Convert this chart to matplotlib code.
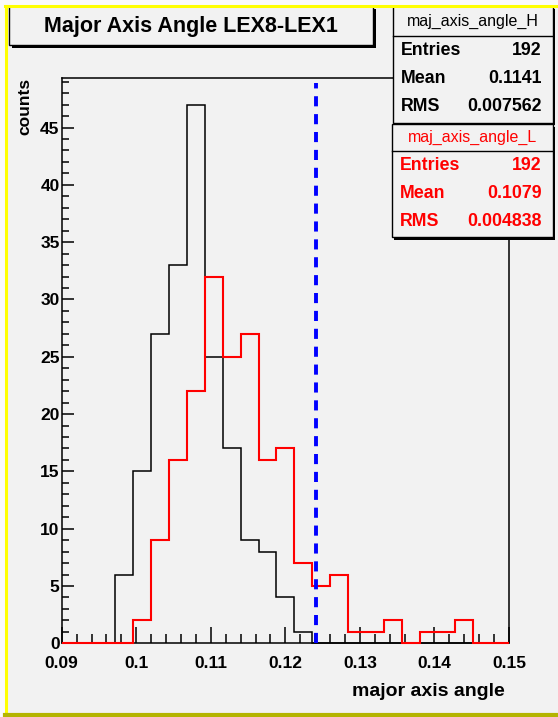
import numpy as np
import matplotlib
matplotlib.use("Agg")
import matplotlib.pyplot as plt
from matplotlib.patches import Rectangle
from matplotlib.lines import Line2D

plt.rcParams['font.family'] = ['Liberation Sans', 'DejaVu Sans']

# histogram binning (25 bins between 0.09 and 0.15)
x_min, x_max, n_bins = 0.09, 0.15, 25
counts_H = [0, 0, 0, 6, 15, 27, 33, 47, 25, 17, 9, 8, 4, 1,
            0, 0, 0, 0, 0, 0, 0, 0, 0, 0, 0]
counts_L = [0, 0, 0, 0, 2, 9, 16, 22, 32, 25, 27, 16, 17, 7,
            5, 6, 1, 1, 2, 0, 1, 1, 2, 0, 0]
cut_value = 0.1241
cut_top = 48.9

title = "Major Axis Angle LEX8-LEX1"
stats_H_name = "maj_axis_angle_H"
stats_H = [("Entries", "192"), ("Mean", "0.1141"), ("RMS", "0.007562")]
stats_L_name = "maj_axis_angle_L"
stats_L = [("Entries", "192"), ("Mean", "0.1079"), ("RMS", "0.004838")]

W, H = 558, 717
BG = '#f2f2f2'


def fx(x):
    return x / W


def fy(y):
    return 1 - y / H


fig = plt.figure(figsize=(W / 100, H / 100), dpi=100)
fig.patch.set_facecolor('#fafafa')
# pad area
fig.add_artist(Rectangle((fx(5), fy(715)), (558 - 5) / W, (715 - 5) / H, facecolor=BG,
                         edgecolor='none', transform=fig.transFigure, zorder=-10))

ax = fig.add_axes([fx(61.7), fy(643.3), (509 - 61.7) / W, (643.3 - 77.7) / H])
ax.set_facecolor(BG)

edges = np.linspace(x_min, x_max, n_bins + 1)
ax.stairs(counts_H, edges, color='black', lw=1.1, zorder=3, clip_on=False)
ax.stairs(counts_L, edges, color='red', lw=1.5, zorder=3.1, clip_on=False)
ax.vlines(cut_value, 0, cut_top, colors='blue', lw=2.8, linestyles=(0, (2.6, 2.0)),
          zorder=3.2)

ax.set_xlim(x_min, x_max)
ax.set_ylim(0, max(counts_H) * 1.05)
ax.set_xticks(np.arange(0.09, 0.1501, 0.01))
ax.set_xticklabels(['0.09', '0.1', '0.11', '0.12', '0.13', '0.14', '0.15'])
ax.set_xticks(np.arange(0.09, 0.1501, 0.002), minor=True)
ax.set_yticks(np.arange(0, 46, 5))
ax.set_yticks(np.arange(0, 50, 1), minor=True)
ax.tick_params(axis='both', which='both', direction='in', width=1.1,
               labelsize=12.5, color='black')
ax.tick_params(axis='y', which='major', length=8.6, pad=1.5)
ax.tick_params(axis='y', which='minor', length=4.8)
ax.tick_params(axis='x', which='major', length=11.5, pad=9.5)
ax.tick_params(axis='x', which='minor', length=6.5)
for lab in ax.get_xticklabels() + ax.get_yticklabels():
    lab.set_fontweight('bold')
for s in ax.spines.values():
    s.set_linewidth(1.1)

ax.text((25 - 61.7) / (509 - 61.7), 1.0, "counts", rotation=90, ha='center', va='top',
        fontsize=12.5, fontweight='bold', transform=ax.transAxes)
fig.text(fx(505), fy(691), "major axis angle", ha='right', va='center',
         fontsize=14, fontweight='bold')


def box(x0, y0, x1, y1):
    fig.add_artist(Rectangle((fx(x0) + 2.5 / W, fy(y1) - 2.5 / H), (x1 - x0) / W,
                             (y1 - y0) / H, facecolor='black', edgecolor='none',
                             transform=fig.transFigure, zorder=5))
    fig.add_artist(Rectangle((fx(x0), fy(y1)), (x1 - x0) / W, (y1 - y0) / H,
                             facecolor=BG, edgecolor='black', lw=1,
                             transform=fig.transFigure, zorder=6))


def stat_box(x0, y0, x1, y1, ysep, name, rows, color):
    box(x0, y0, x1, y1)
    fig.add_artist(Line2D([fx(x0), fx(x1)], [fy(ysep), fy(ysep)], color='black',
                          lw=1, transform=fig.transFigure, zorder=7))
    fig.text(fx((x0 + x1) / 2), fy((y0 + ysep) / 2 + 0.5), name, ha='center',
             va='center', fontsize=11.5, color=color, zorder=8)
    for i, (k, v) in enumerate(rows):
        yy = fy(ysep + 14.3 + i * 28.2)
        fig.text(fx(x0 + 8), yy, k, ha='left', va='center', fontsize=12.8,
                 fontweight='bold', color=color, zorder=8)
        fig.text(fx(x1 - 11), yy, v, ha='right', va='center', fontsize=12.8,
                 fontweight='bold', color=color, zorder=8)


# title box
box(9.3, 6, 373.3, 45)
fig.text(fx(191.3), fy(26.5), title, ha='center', va='center', fontsize=15.5,
         fontweight='bold', zorder=8)

stat_box(393.3, 6, 552.7, 122.7, 36, stats_H_name, stats_H, 'black')
stat_box(391.7, 124, 552.7, 237.3, 150.7, stats_L_name, stats_L, 'red')

# pad border
fig.add_artist(Line2D([fx(5), fx(558)], [fy(6), fy(6)], color='#ffff00', lw=2.2,
                      transform=fig.transFigure, zorder=9))
fig.add_artist(Line2D([fx(6), fx(6)], [fy(6), fy(714)], color='#ffff00', lw=2.2,
                      transform=fig.transFigure, zorder=9))
fig.add_artist(Line2D([fx(5), fx(558)], [fy(714.5), fy(714.5)], color='#b4b400',
                      lw=3, transform=fig.transFigure, zorder=9))

fig.savefig("out.png", dpi=100, facecolor=fig.get_facecolor())
